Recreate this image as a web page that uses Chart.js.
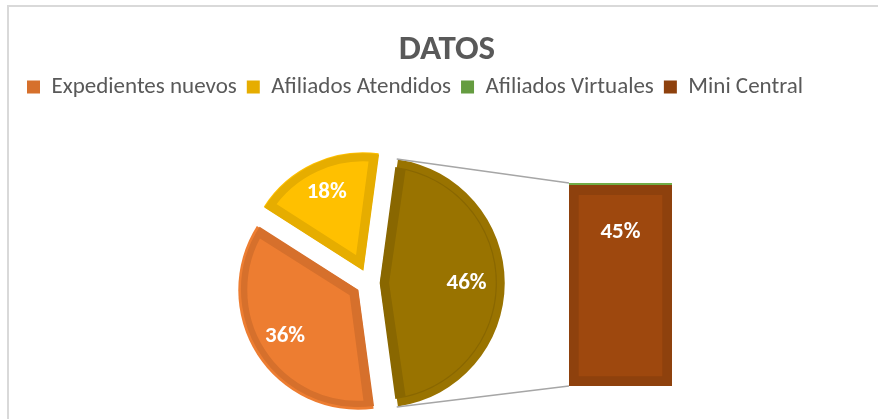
<!DOCTYPE html>
<html>
<head>
<meta charset="utf-8">
<script src="https://cdn.jsdelivr.net/npm/chart.js@4.4.1/dist/chart.umd.min.js"></script>
<style>
  html, body { margin: 0; padding: 0; background: #fff; overflow: hidden; }
  #wrap { position: relative; width: 878px; height: 419px; }
  #frame { position: absolute; left: 7px; top: 5px; width: 900px; height: 500px; border-top: 2px solid #d9d9d9; border-left: 2px solid #d9d9d9; }
  canvas { position: absolute; left: 0; top: 0; }
</style>
</head>
<body>
<div id="wrap">
  <div id="frame"></div>
  <canvas id="pie" width="878" height="419"></canvas>
  <canvas id="bar" width="878" height="419"></canvas>
</div>
<script>
const SERIES = ["Expedientes nuevos", "Afiliados Atendidos", "Afiliados Virtuales", "Mini Central"];
const VALUES = [36, 18, 0.5, 45];
const FILL = ["#ED7D31", "#FFC000", "#70AD47", "#9E480E"];
const EDGE = ["#D6702C", "#E6AD00", "#659C40", "#8E410D"];
const OTHER_FILL = "#997300";
const OTHER_EDGE = "#896700";

// pie shows the first two series plus "other"; the bar splits "other"
const PIE_LABELS = [SERIES[0], SERIES[1], "Otro"];
const PIE_VALUES = [VALUES[0], VALUES[1], VALUES[2] + VALUES[3]];
const TOTAL = VALUES.reduce((a, b) => a + b, 0);
const pct = (v) => Math.round((v / TOTAL) * 100) + "%";

const FONT = "Carlito, Lato, sans-serif";
const TEXT = "#595959";

const pieLabels = {
  id: "pieLabels",
  afterDatasetsDraw(chart) {
    const ctx = chart.ctx;
    const meta = chart.getDatasetMeta(0);
    ctx.save();
    ctx.fillStyle = "#fff";
    ctx.font = "bold 23px " + FONT;
    ctx.textAlign = "center";
    ctx.textBaseline = "middle";
    meta.data.forEach((arc, i) => {
      const mid = (arc.startAngle + arc.endAngle) / 2;
      const d = arc.options.offset / 4 + arc.outerRadius * 0.74;
      ctx.fillText(pct(PIE_VALUES[i]), arc.x + Math.cos(mid) * d, arc.y + Math.sin(mid) * d);
    });
    ctx.restore();
  },
};

const otherDeg = (PIE_VALUES[2] / TOTAL) * 360;

const pieChart = new Chart(document.getElementById("pie"), {
  type: "pie",
  data: {
    labels: PIE_LABELS,
    datasets: [{
      data: PIE_VALUES,
      backgroundColor: [FILL[0], FILL[1], OTHER_FILL],
      borderColor: [EDGE[0], EDGE[1], OTHER_EDGE],
      borderWidth: 9,
      borderAlign: "inner",
      borderJoinStyle: "miter",
      offset: [52, 56, 44],
    }],
  },
  options: {
    responsive: false,
    animation: false,
    events: [],
    rotation: 90 + otherDeg / 2,
    radius: 117,
    layout: { padding: { top: 147, right: 140, left: 0, bottom: 0 } },
    plugins: { legend: { display: false }, tooltip: { enabled: false } },
  },
  plugins: [pieLabels],
});

// connector lines from the "other" slice to the bar, plus the bar label
const barExtras = {
  id: "barExtras",
  beforeDatasetsDraw(chart) {
    const arc = pieChart.getDatasetMeta(0).data[2];
    const t = arc.options.offset / 4;
    const fix = 1 - Math.sin(Math.min(Math.PI, arc.circumference));
    const mid = (arc.startAngle + arc.endAngle) / 2;
    const cx = arc.x + Math.cos(mid) * t;
    const cy = arc.y + Math.sin(mid) * t;
    const r = arc.outerRadius + t * fix;
    const base = chart.getDatasetMeta(0).data[0];
    const top = chart.getDatasetMeta(1).data[0];
    const left = base.x - base.width / 2;
    const ctx = chart.ctx;
    ctx.save();
    ctx.strokeStyle = "#A6A6A6";
    ctx.lineWidth = 1.5;
    ctx.beginPath();
    ctx.moveTo(cx + Math.cos(arc.startAngle) * r, cy + Math.sin(arc.startAngle) * r);
    ctx.lineTo(left, top.y);
    ctx.moveTo(cx + Math.cos(arc.endAngle) * r, cy + Math.sin(arc.endAngle) * r);
    ctx.lineTo(left, base.base);
    ctx.stroke();
    ctx.restore();
  },
  afterDatasetsDraw(chart) {
    const bar = chart.getDatasetMeta(0).data[0];
    const ctx = chart.ctx;
    ctx.save();
    ctx.fillStyle = "#fff";
    ctx.font = "bold 23px " + FONT;
    ctx.textAlign = "center";
    ctx.textBaseline = "middle";
    ctx.fillText(pct(VALUES[3]), bar.x, bar.y + (bar.base - bar.y) * 0.234);
    ctx.restore();
  },
};

const hidden = { ticks: { display: false }, grid: { display: false }, border: { display: false } };

const barChart = new Chart(document.getElementById("bar"), {
  type: "bar",
  data: {
    labels: [""],
    datasets: [
      { label: SERIES[3], data: [VALUES[3]], backgroundColor: FILL[3], borderColor: EDGE[3], borderWidth: 10, borderSkipped: false },
      { label: SERIES[2], data: [VALUES[2]], backgroundColor: FILL[2], borderWidth: 0 },
    ],
  },
  options: {
    responsive: false,
    animation: false,
    events: [],
    layout: { padding: { left: 17, right: 1, top: 0, bottom: 33 } },
    datasets: { bar: { barPercentage: 1, categoryPercentage: 1 } },
    scales: {
      x: { stacked: true, display: false },
      y: { stacked: true, min: 0, max: VALUES[2] + VALUES[3], ...hidden, afterFit: (s) => { s.width = 552; } },
      yR: { position: "right", ...hidden, afterFit: (s) => { s.width = 205; } },
      xT: {
        position: "top", ...hidden,
        afterFit: (s) => { s.height = 183 - s.chart.titleBlock.height - s.chart.legend.height; },
      },
    },
    plugins: {
      tooltip: { enabled: false },
      title: {
        display: true,
        text: "DATOS",
        color: TEXT,
        font: { family: FONT, size: 35, weight: "bold", lineHeight: 0.9 },
        padding: { top: 34, bottom: 0 },
      },
      legend: {
        display: true,
        align: "start",
        labels: {
          color: TEXT,
          font: { family: FONT, size: 23 },
          boxWidth: 13,
          boxHeight: 13,
          padding: 10,
          generateLabels: () => SERIES.map((s, i) => ({
            text: s, fillStyle: EDGE[i], strokeStyle: EDGE[i], lineWidth: 0, hidden: false, fontColor: TEXT,
          })),
        },
      },
    },
  },
  plugins: [barExtras],
});
</script>
</body>
</html>
